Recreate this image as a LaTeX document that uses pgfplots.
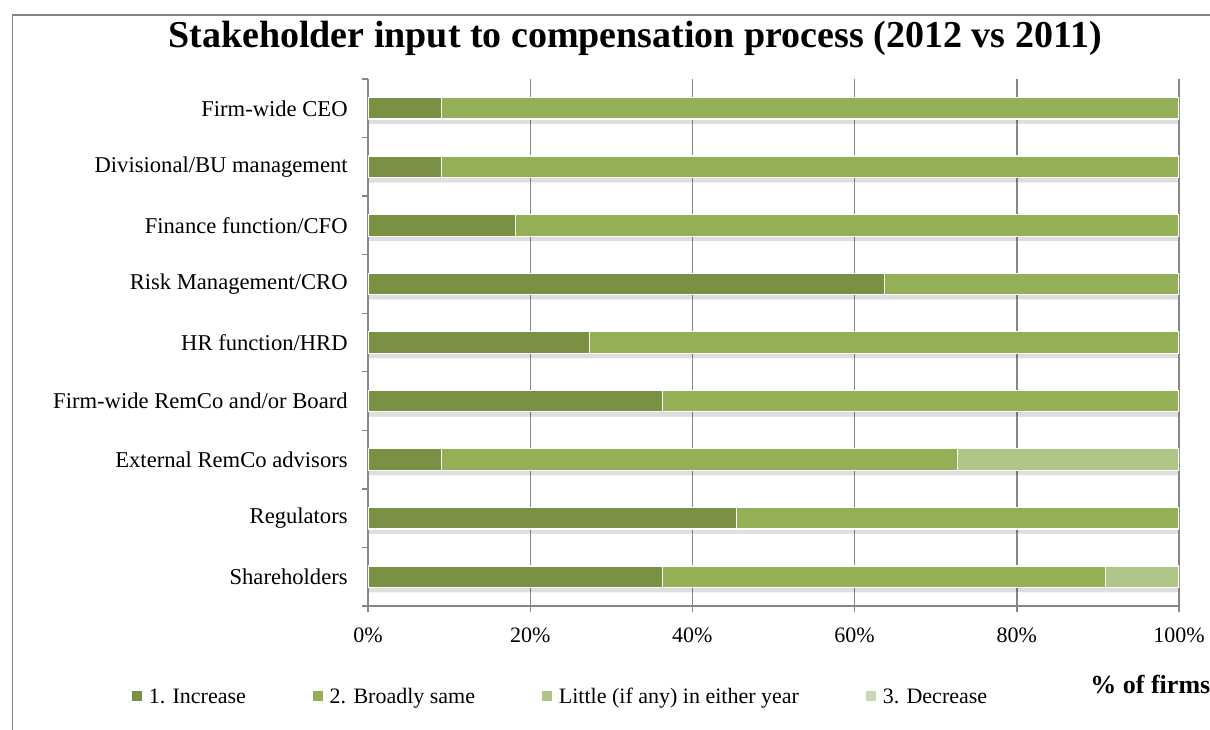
\documentclass[border=0pt]{standalone}
\usepackage{pgfplots}
\pgfplotsset{compat=1.18}
\usepackage{fontspec}
\setmainfont{Liberation Serif}
\usetikzlibrary{shadows}
\definecolor{cInc}{RGB}{122,145,67}
\definecolor{cSame}{RGB}{147,176,87}
\definecolor{cLit}{RGB}{174,198,136}
\definecolor{cDec}{RGB}{201,217,181}
\definecolor{gline}{RGB}{134,134,134}
\begin{document}
\begin{tikzpicture}
\clip (0,0) rectangle (605pt,364.5pt);
\draw[gline, line width=0.7pt] (6.15pt,-1pt) -- (6.15pt,357pt) -- (610pt,357pt);
\node[font=\fontsize{19}{22}\selectfont\bfseries, anchor=base, inner sep=0pt] at (317.5pt,340.5pt) {Stakeholder input to compensation process (2012 vs 2011)};
\begin{axis}[
  at={(184pt,61.5pt)}, anchor=south west,
  scale only axis, width=405.5pt, height=263.5pt,
  xbar stacked, bar width=0.367,
  xmin=0, xmax=100, ymin=-0.5, ymax=8.5,
  axis x line*=bottom, axis y line*=left,
  axis line style={gline, line width=0.7pt},
  xtick={0,20,40,60,80,100},
  xticklabels={0\%,20\%,40\%,60\%,80\%,100\%},
  ytick={0,...,8},
  yticklabels={Shareholders, Regulators, External RemCo advisors, Firm-wide RemCo and/or Board, HR function/HRD, Risk Management/CRO, Finance function/CFO, Divisional/BU management, Firm-wide CEO},
  minor ytick={-0.5,0.5,...,8.5},
  tick align=outside,
  major tick length=3pt,
  minor tick length=3pt,
  tick style={gline, line width=0.7pt},
  major y tick style={draw=none},
  xmajorgrids,
  major x grid style={gline, line width=0.7pt},
  ticklabel style={inner sep=0pt},
  yticklabel style={xshift=-7pt, font=\fontsize{11.3}{13}\selectfont},
  xticklabel style={yshift=-7.5pt, font=\fontsize{11}{13}\selectfont},
  legend columns=4,
  legend entries={1. Increase, 2. Broadly same, Little (if any) in either year, 3. Decrease},
  legend style={draw=none, fill=none, inner sep=0pt, outer sep=0pt,
    at={(axis description cs:-0.291,-0.1746)}, anchor=west,
    font=\fontsize{11}{13}\selectfont,
    nodes={inner sep=0pt, text height=7.6pt, text depth=2.4pt},
    /tikz/every odd column/.append style={column sep=3.5pt},
    /tikz/every even column/.append style={column sep=33.5pt}},
  bar shadow/.style={draw=white, line width=0.6pt,
    drop shadow={shadow xshift=0pt, shadow yshift=-2.5pt, fill=black, opacity=0.13}},
]
\addlegendimage{legend image code/.code={\fill[cInc] (0pt,-1.2pt) rectangle (4.5pt,3.3pt);}}
\addlegendimage{legend image code/.code={\fill[cSame] (0pt,-1.2pt) rectangle (4.5pt,3.3pt);}}
\addlegendimage{legend image code/.code={\fill[cLit] (0pt,-1.2pt) rectangle (4.5pt,3.3pt);}}
\addlegendimage{legend image code/.code={\fill[cDec] (0pt,-1.2pt) rectangle (4.5pt,3.3pt);}}
\addplot[fill=cInc, bar shadow]
  coordinates {(36.36,0) (45.45,1) (9.09,2) (36.36,3) (27.27,4) (63.64,5) (18.18,6) (9.09,7) (9.09,8)};
\addplot[fill=cSame, bar shadow]
  coordinates {(54.55,0) (54.55,1) (63.64,2) (63.64,3) (72.73,4) (36.36,5) (81.82,6) (90.91,7) (90.91,8)};
\addplot[fill=cLit, bar shadow]
  coordinates {(9.09,0) (0,1) (27.27,2) (0,3) (0,4) (0,5) (0,6) (0,7) (0,8)};
\addplot[fill=cDec, draw=none]
  coordinates {(0,0) (0,1) (0,2) (0,3) (0,4) (0,5) (0,6) (0,7) (0,8)};
\end{axis}
\node[font=\fontsize{13}{15}\selectfont\bfseries, anchor=base west, inner sep=0pt] at (545pt,18pt) {\% of firms};
\end{tikzpicture}
\end{document}
